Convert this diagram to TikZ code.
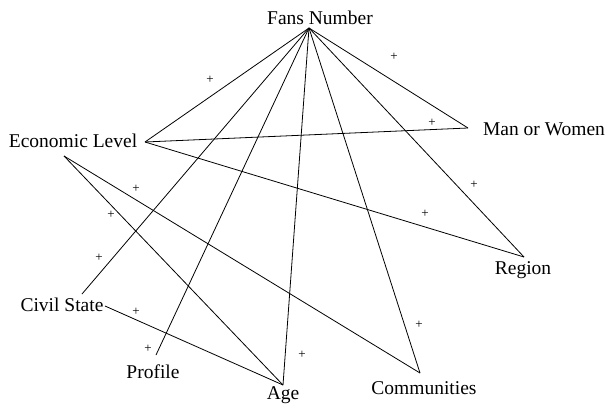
\documentclass[tikz,border=0pt]{standalone}
\usepackage{fontspec}
\setmainfont{Liberation Serif}
\begin{document}
\begin{tikzpicture}[x=1pt,y=-1pt,
  lbl/.style={inner sep=0pt,font=\fontsize{19.5}{22}\selectfont},
  sgn/.style={inner sep=0pt,font=\fontsize{13}{15}\selectfont},
  link/.style={draw=black,line width=0.8pt}]
\useasboundingbox (0,0) rectangle (607,404);
% connection points
\coordinate (fn) at (309,28);
\coordinate (el) at (145,142);
\coordinate (elb) at (64,156);
\coordinate (mw) at (468,128);
\coordinate (rg) at (524,257);
\coordinate (cm) at (420,373);
\coordinate (ag) at (283,385);
\coordinate (pf) at (156,355);
\coordinate (cs) at (82,294);
\coordinate (csr) at (105,306);
% labels
\node[lbl] (tfn) at (320,18) {Fans Number};
\node[lbl] (tel) at (73,141) {Economic Level};
\node[lbl] (tmw) at (544,129) {Man or Women};
\node[lbl] (trg) at (523,270) {Region};
\node[lbl] (tcs) at (62,305) {Civil State};
\node[lbl] (tpf) at (153,372) {Profile};
\node[lbl] (tag) at (283,395) {Age};
\node[lbl] (tcm) at (424,388) {Communities};
% links
\draw[link] (fn) -- (el);
\draw[link] (fn) -- (mw);
\draw[link] (fn) -- (rg);
\draw[link] (fn) -- (cm);
\draw[link] (fn) -- (ag);
\draw[link] (fn) -- (pf);
\draw[link] (fn) -- (cs);
\draw[link] (el) -- (mw);
\draw[link] (el) -- (rg);
\draw[link] (elb) -- (ag);
\draw[link] (elb) -- (cm);
\draw[link] (csr) -- (ag);
% signs
\foreach \i/\p in {1/{(210,80)},2/{(394,57)},3/{(432,123)},4/{(474,185)},
  5/{(425,214)},6/{(136,189)},7/{(111,215)},8/{(99,258)},9/{(136,312)},
  10/{(148,349)},11/{(302,355)},12/{(419,325)}}
  \node[sgn] (s\i) at \p {+};
\end{tikzpicture}
\end{document}
